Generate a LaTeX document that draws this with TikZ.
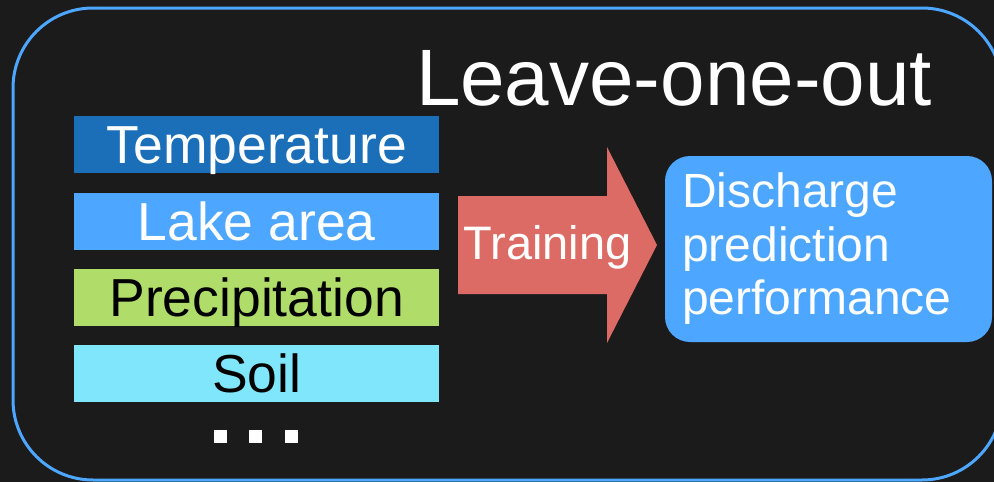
\documentclass[tikz,border=0pt]{standalone}
\usepackage{fontspec}
\setmainfont{Liberation Sans}
\usetikzlibrary{positioning, calc}
\definecolor{bgdark}{HTML}{1B1B1B}
\definecolor{framecol}{HTML}{4DA6FF}
\definecolor{tempcol}{HTML}{1A6FB8}
\definecolor{lakecol}{HTML}{4DA6FF}
\definecolor{precipcol}{HTML}{B0DC6A}
\definecolor{soilcol}{HTML}{80E6FC}
\definecolor{arrowcol}{HTML}{DC6B65}

\begin{document}
\begin{tikzpicture}[x=1pt, y=-1pt,
    bar/.style={minimum width=365pt, minimum height=57pt, inner sep=0pt,
      text height=38pt, text depth=0pt, font=\fontsize{53.5}{60}\selectfont},
    dotbox/.style={fill=white, minimum size=13pt, inner sep=0pt}]
      \useasboundingbox (0, 0) rectangle (994, 482);
      \fill[bgdark] (0, 0) rectangle (994, 482);
      \begin{scope}
        \clip (0, 0) rectangle (994, 482);
        \draw[framecol, line width=3pt, rounded corners=80pt] (13, 8) rectangle (1002, 480);
      \end{scope}

      \node[anchor=base, white, font=\fontsize{80}{90}\selectfont] (title) at (674, 105) {Leave-one-out};

      % input variables
      \node[bar, fill=tempcol, text=white, anchor=north west] (temp) at (74, 116) {Temperature};
      \node[bar, fill=lakecol, text=white, below=19pt of temp] (lake) {Lake area};
      \node[bar, fill=precipcol, text=black, below=19pt of lake] (precip) {Precipitation};
      \node[bar, fill=soilcol, text=black, below=19pt of precip] (soil) {Soil};
      \foreach \i/\x in {1/220.5, 2/255.5, 3/291.5}
        \node[dotbox] (dot\i) at (\x, 436) {};

      \fill[arrowcol] (458, 196) -- (607, 196) -- (607, 147) -- (657, 245)
        -- (607, 343) -- (607, 294) -- (458, 294) -- cycle;
      \node[anchor=base, white, inner sep=0pt, font=\fontsize{47}{54}\selectfont] (train) at (547.5, 259) {Training};

      \node[fill=lakecol, rounded corners=25pt, minimum width=327pt, minimum height=186pt,
        text width=293pt, inner xsep=17pt, inner ysep=0pt, align=left, text=white,
        font=\fontsize{48}{53.5}\selectfont] (perf) at (828.5, 249) {Discharge\\prediction\\performance};

    \end{tikzpicture}
\end{document}
